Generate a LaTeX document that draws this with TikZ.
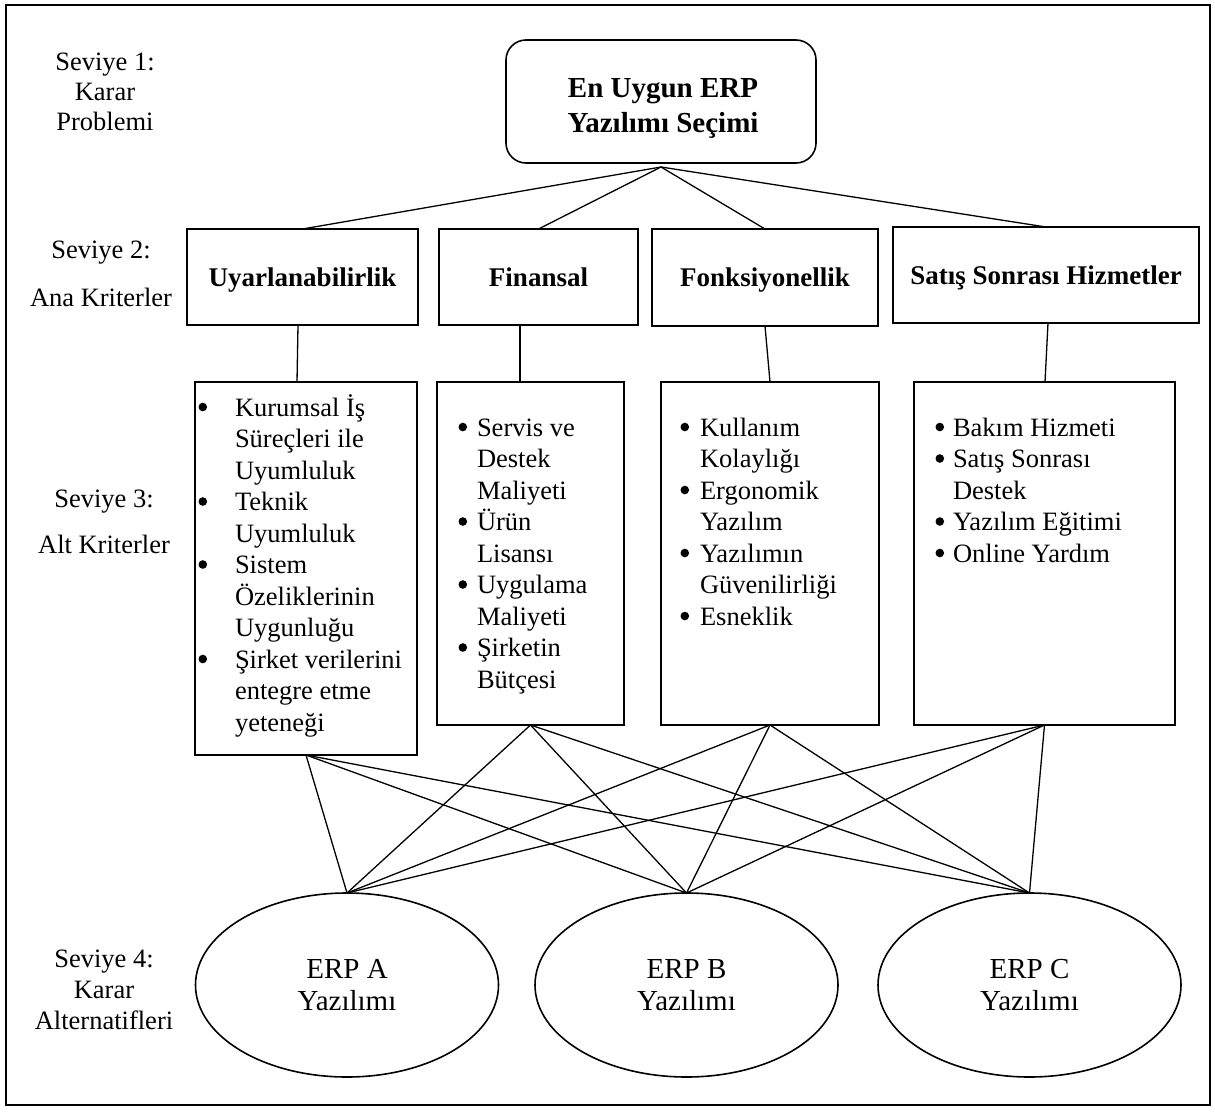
\documentclass[tikz,border=0pt]{standalone}
\usepackage{fontspec}
\setmainfont{Liberation Serif}
\usetikzlibrary{shapes.geometric}
\lineskiplimit=-100pt
\newlength\bw
\newcommand\bul{\tikz[baseline=-9pt]\fill (0,0) circle[radius=4.3pt];}
\newcommand\bi[1]{\makebox[\bw][l]{\bul}#1}
\newcommand\bc[1]{\hspace*{\bw}#1}
\newcommand\fs{\rule{0pt}{25pt}}
\newcommand\fnt{\fontsize{26.5}{31.5}\selectfont}
\tikzset{
  base/.style={inner sep=0pt, outer sep=0pt},
  rbox/.style={base, draw, line width=1.6pt, rectangle},
  topbox/.style={rbox, rounded corners=20pt},
  crit/.style={rbox, font=\fontsize{27}{31.5}\selectfont\bfseries, text height=18pt, text depth=0pt},
  alt/.style={base, draw, line width=1.6pt, ellipse, minimum width=303pt, minimum height=184pt, align=center, font=\fontsize{29}{32.5}\selectfont},
  lvl/.style={base, anchor=north, align=center},
  lst/.style={base, anchor=north west, align=left},
  conn/.style={line width=1.3pt}
}
\begin{document}
\begin{tikzpicture}[x=1pt, y=-1pt, font=\fnt]
\useasboundingbox (0,0) rectangle (1215,1111);
\draw[line width=1.5pt] (6,5) rectangle (1210,1105);

% level labels
\node[lvl] (lv1) at (105,45) {\fs Seviye 1:\\[-1.5pt]Karar\\[-1.5pt]Problemi};
\node[lvl] (lv2) at (101,233) {\fs Seviye 2:\\[16.5pt]Ana Kriterler};
\node[lvl] (lv3) at (104,482) {\fs Seviye 3:\\[14.5pt]Alt Kriterler};
\node[lvl] (lv4) at (104,942) {\fs Seviye 4:\\Karar\\[-1pt]Alternatifleri};

% level 1
\node[topbox, minimum width=310pt, minimum height=123pt] (top) at (661,101.5) {};
\node[base, align=center, font=\fontsize{29}{35}\selectfont\bfseries] (toptext) at (663,108) {En Uygun ERP\\Yazılımı Seçimi};

% level 2
\node[crit, minimum width=231pt, minimum height=96pt] (u) at (302.5,277) {Uyarlanabilirlik};
\node[crit, minimum width=199pt, minimum height=96pt] (f) at (538.5,277) {Finansal};
\node[crit, minimum width=226pt, minimum height=97pt] (k) at (765,277.5) {Fonksiyonellik};
\node[crit, minimum width=306pt, minimum height=96pt] (s) at (1046,275) {Satış Sonrası Hizmetler};

% level 3 boxes
\node[rbox, minimum width=222pt, minimum height=373pt] (b1) at (306,568.5) {};
\node[rbox, minimum width=187pt, minimum height=343pt] (b2) at (530.5,553.5) {};
\node[rbox, minimum width=218pt, minimum height=343pt] (b3) at (770,553.5) {};
\node[rbox, minimum width=261pt, minimum height=343pt] (b4) at (1044.5,553.5) {};

\setlength\bw{36.5pt}
\node[lst] (t1) at (198.5,391) {\fs\bi{Kurumsal İş}\\\bc{Süreçleri ile}\\\bc{Uyumluluk}\\\bi{Teknik}\\\bc{Uyumluluk}\\\bi{Sistem}\\\bc{Özeliklerinin}\\\bc{Uygunluğu}\\\bi{Şirket verilerini}\\\bc{entegre etme}\\\bc{yeteneği}};
\setlength\bw{18.5pt}
\node[lst] (t2) at (458.5,411) {\fs\bi{Servis ve}\\\bc{Destek}\\\bc{Maliyeti}\\\bi{Ürün}\\\bc{Lisansı}\\\bi{Uygulama}\\\bc{Maliyeti}\\\bi{Şirketin}\\\bc{Bütçesi}};
\setlength\bw{19.5pt}
\node[lst] (t3) at (680.5,411) {\fs\bi{Kullanım}\\\bc{Kolaylığı}\\\bi{Ergonomik}\\\bc{Yazılım}\\\bi{Yazılımın}\\\bc{Güvenilirliği}\\\bi{Esneklik}};
\setlength\bw{17.5pt}
\node[lst] (t4) at (935.5,411) {\fs\bi{Bakım Hizmeti}\\\bi{Satış Sonrası}\\\bc{Destek}\\\bi{Yazılım Eğitimi}\\\bi{Online Yardım}};

% level 4
\node[alt] (ea) at (347,985) {ERP A\\Yazılımı};
\node[alt] (eb) at (686.5,985) {ERP B\\Yazılımı};
\node[alt] (ec) at (1029.5,985) {ERP C\\Yazılımı};

% connectors
\coordinate (c0) at ([yshift=-4pt]top.south);
\foreach \n in {u,f,k,s} \draw[conn] (c0) -- (\n.north);
\draw[conn] ([xshift=-4.5pt]u.south) -- ([xshift=-9pt]b1.north);
\draw[conn] ([xshift=-18.5pt]f.south) -- ([xshift=-10.5pt]b2.north);
\draw[conn] (k.south) -- (b3.north);
\draw[conn] ([xshift=2pt]s.south) -- ([xshift=0.5pt]b4.north);
\foreach \b in {b1,b2,b3,b4}
  \foreach \e in {ea,eb,ec}
    \draw[conn] (\b.south) -- (\e.north);
\end{tikzpicture}
\end{document}
